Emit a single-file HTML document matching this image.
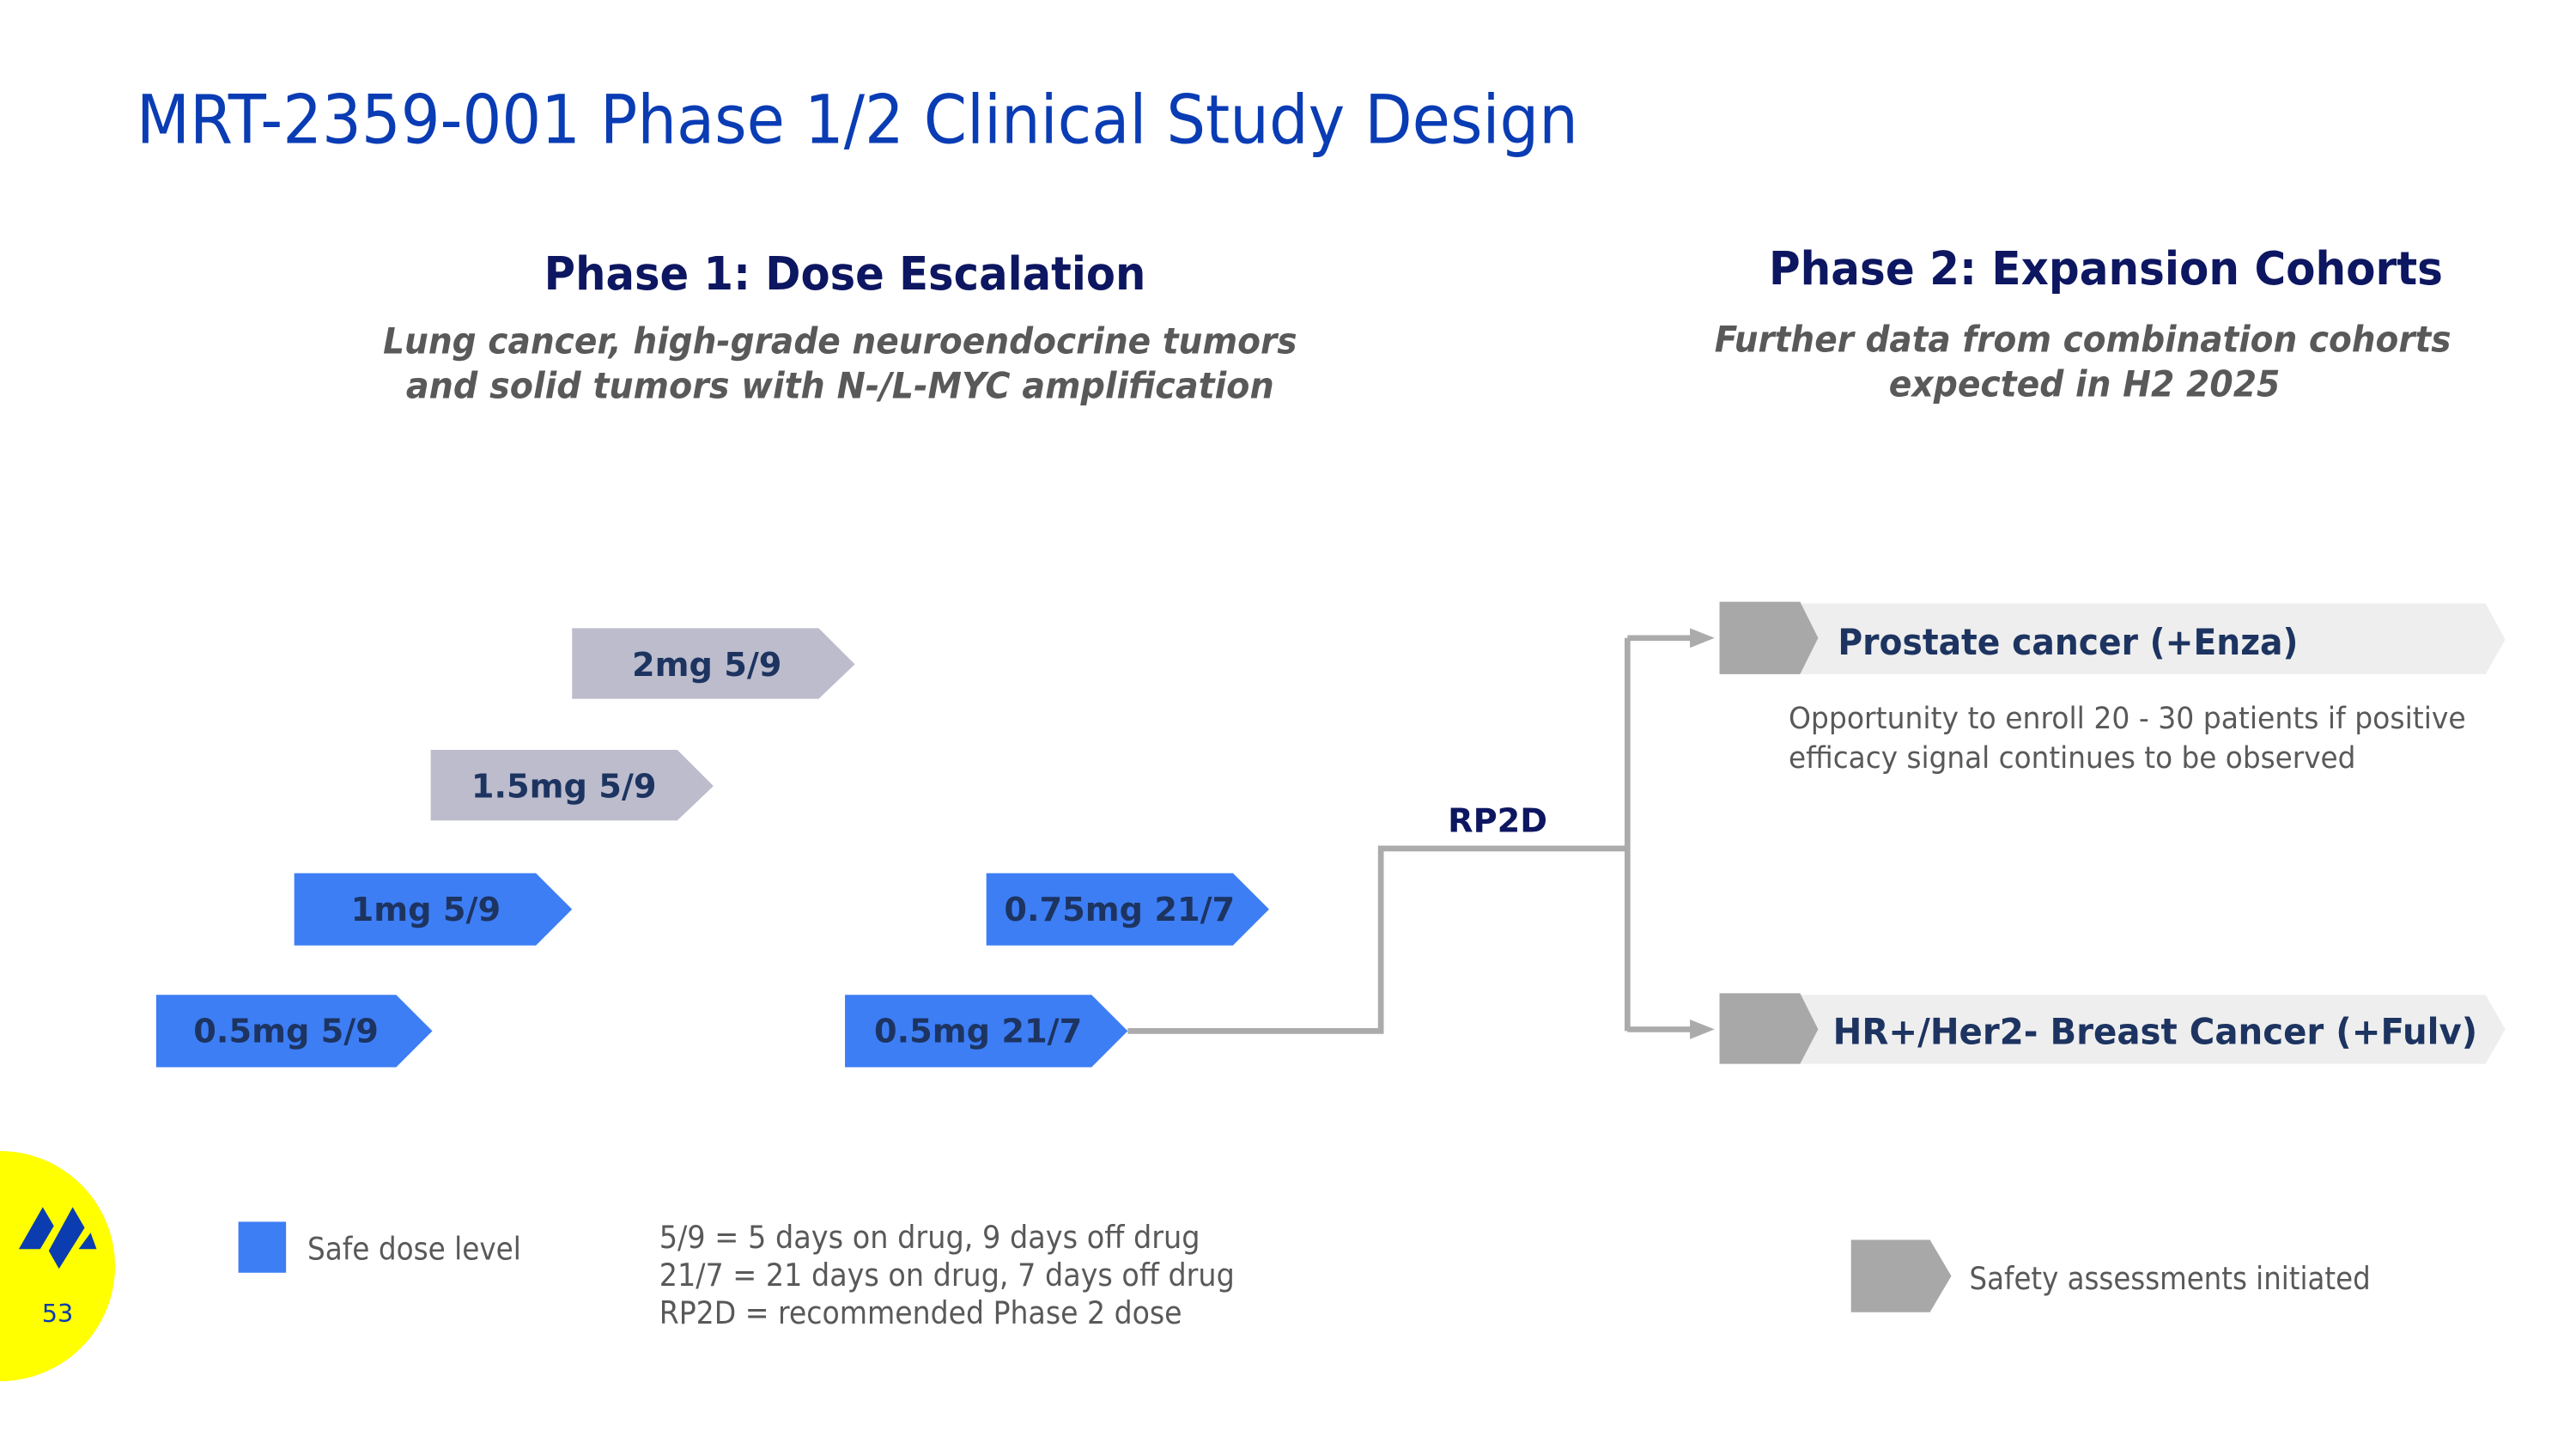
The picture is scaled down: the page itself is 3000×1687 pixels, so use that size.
<!DOCTYPE html>
<html><head><meta charset="utf-8"><style>
html,body{margin:0;padding:0;background:#fff;}
svg{display:block;}
text{font-family:"DejaVu Sans","Liberation Sans",sans-serif;}
</style></head><body>
<svg width="3000" height="1687" viewBox="0 0 1567 881.2" preserveAspectRatio="none" xmlns="http://www.w3.org/2000/svg">
<rect width="1567" height="881.2" fill="#fff"/>
<text x="83" y="87" font-size="41" fill="#0a3cb4" textLength="877" lengthAdjust="spacingAndGlyphs" font-family="Liberation Sans, sans-serif">MRT-2359-001 Phase 1/2 Clinical Study Design</text>

<text x="514" y="176" font-size="28" font-weight="bold" fill="#0d1660" text-anchor="middle" textLength="366" lengthAdjust="spacingAndGlyphs">Phase 1: Dose Escalation</text>
<text x="511" y="215" font-size="22" font-weight="bold" font-style="italic" fill="#595959" text-anchor="middle" textLength="556" lengthAdjust="spacingAndGlyphs">Lung cancer, high-grade neuroendocrine tumors</text>
<text x="511" y="242" font-size="22" font-weight="bold" font-style="italic" fill="#595959" text-anchor="middle" textLength="528" lengthAdjust="spacingAndGlyphs">and solid tumors with N-/L-MYC amplification</text>

<text x="1281" y="173" font-size="28" font-weight="bold" fill="#0d1660" text-anchor="middle" textLength="410" lengthAdjust="spacingAndGlyphs">Phase 2: Expansion Cohorts</text>
<text x="1267" y="214" font-size="22" font-weight="bold" font-style="italic" fill="#595959" text-anchor="middle" textLength="448" lengthAdjust="spacingAndGlyphs">Further data from combination cohorts</text>
<text x="1268" y="241" font-size="22" font-weight="bold" font-style="italic" fill="#595959" text-anchor="middle" textLength="238" lengthAdjust="spacingAndGlyphs">expected in H2 2025</text>

<g font-size="20" font-weight="bold" fill="#1d3461" text-anchor="middle">
<polygon points="348,382 498,382 520,404 498,425 348,425" fill="#bcbccc"/>
<text x="430" y="411">2mg 5/9</text>
<polygon points="262,456 412,456 434,478 412,499 262,499" fill="#bcbccc"/>
<text x="343" y="485">1.5mg 5/9</text>
<polygon points="179,531 326,531 348,553 326,575 179,575" fill="#3d7ef5"/>
<text x="259" y="560">1mg 5/9</text>
<polygon points="95,605 241,605 263,627 241,649 95,649" fill="#3d7ef5"/>
<text x="174" y="634">0.5mg 5/9</text>
<polygon points="600,531 750,531 772,553 750,575 600,575" fill="#3d7ef5"/>
<text x="681" y="560">0.75mg 21/7</text>
<polygon points="514,605 664,605 686,627 664,649 514,649" fill="#3d7ef5"/>
<text x="595" y="634">0.5mg 21/7</text>
</g>

<g stroke="#ababab" stroke-width="3.5" fill="none">
<polyline points="686,627 840,627 840,516 990,516"/>
<line x1="990" y1="388" x2="990" y2="627"/>
<line x1="990" y1="388" x2="1030" y2="388"/>
<line x1="990" y1="626" x2="1030" y2="626"/>
</g>
<polygon points="1028,382 1043,388 1028,394" fill="#ababab"/>
<polygon points="1028,620 1043,626 1028,632" fill="#ababab"/>
<text x="911" y="506" font-size="20" font-weight="bold" fill="#0d1660" text-anchor="middle">RP2D</text>

<polygon points="1046,367 1512,367 1524,389 1512,410 1046,410" fill="#eeeeee"/>
<polygon points="1046,366 1095,366 1106,388 1095,410 1046,410" fill="#a8a8a8"/>
<text x="1118" y="398" font-size="22" font-weight="bold" fill="#1d3461" textLength="280" lengthAdjust="spacingAndGlyphs">Prostate cancer (+Enza)</text>
<text x="1088" y="443" font-size="18" fill="#595959" textLength="412" lengthAdjust="spacingAndGlyphs" font-family="Liberation Sans, sans-serif">Opportunity to enroll 20 - 30 patients if positive</text>
<text x="1088" y="467" font-size="18" fill="#595959" textLength="345" lengthAdjust="spacingAndGlyphs" font-family="Liberation Sans, sans-serif">efficacy signal continues to be observed</text>

<polygon points="1046,605 1512,605 1524,626 1512,647 1046,647" fill="#eeeeee"/>
<polygon points="1046,604 1095,604 1106,626 1095,647 1046,647" fill="#a8a8a8"/>
<text x="1115" y="635" font-size="22" font-weight="bold" fill="#1d3461" textLength="392" lengthAdjust="spacingAndGlyphs">HR+/Her2- Breast Cancer (+Fulv)</text>

<rect x="145" y="743" width="29" height="31" fill="#3d7ef5"/>
<text x="187" y="766" font-size="19" fill="#595959" textLength="130" lengthAdjust="spacingAndGlyphs" font-family="Liberation Sans, sans-serif">Safe dose level</text>
<g font-size="19" fill="#595959" font-family="Liberation Sans, sans-serif">
<text x="401" y="759" textLength="329" lengthAdjust="spacingAndGlyphs">5/9 = 5 days on drug, 9 days off drug</text>
<text x="401" y="782" textLength="350" lengthAdjust="spacingAndGlyphs">21/7 = 21 days on drug, 7 days off drug</text>
<text x="401" y="805" textLength="318" lengthAdjust="spacingAndGlyphs">RP2D = recommended Phase 2 dose</text>
</g>
<polygon points="1126,754 1174,754 1187,776 1174,798 1126,798" fill="#a8a8a8"/>
<text x="1198" y="784" font-size="19" fill="#595959" textLength="244" lengthAdjust="spacingAndGlyphs" font-family="Liberation Sans, sans-serif">Safety assessments initiated</text>

<circle cx="0" cy="770" r="70" fill="#ffff00"/>
<g transform="translate(0,3) scale(0.52)" fill="#0b3db0">
<polygon points="22,1455 50,1406 63,1428 47,1455"/>
<polygon points="57,1457 85,1406 99,1430 69,1478"/>
<polygon points="92,1455 106,1436 113,1455"/>
</g>
<text x="35" y="804" font-size="15" fill="#0b3db0" text-anchor="middle" font-family="Liberation Sans, sans-serif">53</text>
</svg>
</body></html>
